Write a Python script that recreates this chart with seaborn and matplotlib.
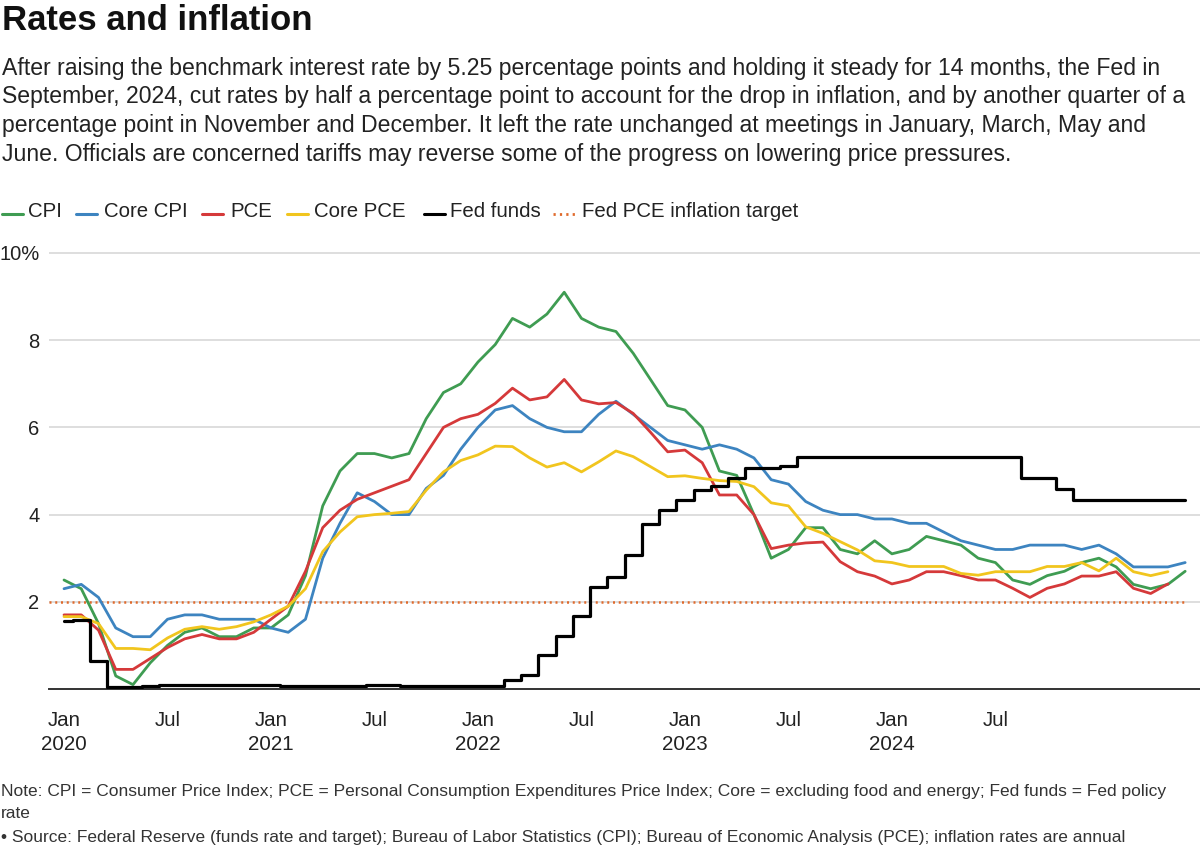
import numpy as np
import pandas as pd
import matplotlib
matplotlib.use("Agg")
import matplotlib.pyplot as plt
from matplotlib.lines import Line2D
import seaborn as sns

# ---------------- data (monthly, Jan 2020 onward) ----------------
start_month = "2020-01-01"

cpi = [2.5, 2.3, 1.5, 0.3, 0.1, 0.6, 1.0, 1.3, 1.4, 1.2, 1.2, 1.4,
       1.4, 1.7, 2.6, 4.2, 5.0, 5.4, 5.4, 5.3, 5.4, 6.2, 6.8, 7.0,
       7.5, 7.9, 8.5, 8.3, 8.6, 9.1, 8.5, 8.3, 8.2, 7.7, 7.1, 6.5,
       6.4, 6.0, 5.0, 4.9, 4.0, 3.0, 3.2, 3.7, 3.7, 3.2, 3.1, 3.4,
       3.1, 3.2, 3.5, 3.4, 3.3, 3.0, 2.9, 2.5, 2.4, 2.6, 2.7, 2.9,
       3.0, 2.8, 2.4, 2.3, 2.4, 2.7]

core_cpi = [2.3, 2.4, 2.1, 1.4, 1.2, 1.2, 1.6, 1.7, 1.7, 1.6, 1.6, 1.6,
            1.4, 1.3, 1.6, 3.0, 3.8, 4.5, 4.3, 4.0, 4.0, 4.6, 4.9, 5.5,
            6.0, 6.4, 6.5, 6.2, 6.0, 5.9, 5.9, 6.3, 6.6, 6.3, 6.0, 5.7,
            5.6, 5.5, 5.6, 5.5, 5.3, 4.8, 4.7, 4.3, 4.1, 4.0, 4.0, 3.9,
            3.9, 3.8, 3.8, 3.6, 3.4, 3.3, 3.2, 3.2, 3.3, 3.3, 3.3, 3.2,
            3.3, 3.1, 2.8, 2.8, 2.8, 2.9]

pce = [1.7, 1.7, 1.35, 0.45, 0.45, 0.7, 0.95, 1.15, 1.25, 1.15, 1.15, 1.3,
       1.6, 1.9, 2.7, 3.7, 4.1, 4.35, 4.5, 4.65, 4.8, 5.4, 6.0, 6.2,
       6.3, 6.55, 6.9, 6.63, 6.7, 7.1, 6.63, 6.54, 6.57, 6.32, 5.89, 5.44,
       5.48, 5.19, 4.45, 4.45, 4.0, 3.22, 3.3, 3.35, 3.37, 2.92, 2.69, 2.59,
       2.41, 2.5, 2.69, 2.69, 2.6, 2.5, 2.5, 2.31, 2.1, 2.31, 2.41, 2.59,
       2.59, 2.69, 2.31, 2.19, 2.41]

core_pce = [1.66, 1.66, 1.5, 0.93, 0.93, 0.9, 1.17, 1.37, 1.43, 1.37, 1.43, 1.54,
            1.7, 1.9, 2.3, 3.15, 3.6, 3.95, 4.0, 4.03, 4.07, 4.56, 4.98, 5.24,
            5.37, 5.57, 5.56, 5.30, 5.09, 5.19, 4.98, 5.21, 5.46, 5.33, 5.10, 4.87,
            4.89, 4.83, 4.78, 4.76, 4.64, 4.27, 4.2, 3.72, 3.57, 3.38, 3.19, 2.94,
            2.9, 2.81, 2.81, 2.81, 2.65, 2.61, 2.69, 2.69, 2.69, 2.81, 2.81, 2.9,
            2.71, 3.0, 2.69, 2.6, 2.69]

fed_funds = [1.55, 1.58, 0.65, 0.05, 0.05, 0.08, 0.09, 0.10, 0.09, 0.09, 0.09, 0.09,
             0.09, 0.08, 0.07, 0.07, 0.06, 0.08, 0.10, 0.09, 0.08, 0.08, 0.08, 0.08,
             0.08, 0.08, 0.20, 0.33, 0.77, 1.21, 1.68, 2.33, 2.56, 3.08, 3.78, 4.10,
             4.33, 4.57, 4.65, 4.83, 5.06, 5.08, 5.12, 5.33, 5.33, 5.33, 5.33, 5.33,
             5.33, 5.33, 5.33, 5.33, 5.33, 5.33, 5.33, 5.33, 4.83, 4.83, 4.58, 4.33,
             4.33, 4.33, 4.33, 4.33, 4.33, 4.33]

fed_target = 2.0

series_names = ["CPI", "Core CPI", "PCE", "Core PCE"]
series_colors = ["#3f9c52", "#3d84c0", "#d5393a", "#f1c51e"]
fed_name = "Fed funds"
target_name = "Fed PCE inflation target"
target_color = "#e06a2c"

xtick_pos = [0, 6, 12, 18, 24, 30, 36, 42, 48, 54, 56]
xtick_labels = ["Jan\n2020", "Jul", "Jan\n2021", "Jul", "Jan\n2022", "Jul",
                "Jan\n2023", "Jul", "Jan\n2024", "Jul", ""]
ytick_pos = [2, 4, 6, 8, 10]
ytick_labels = ["2", "4", "6", "8", "10%"]

title = "Rates and inflation"
subtitle_lines = [
    "After raising the benchmark interest rate by 5.25 percentage points and holding it steady for 14 months, the Fed in",
    "September, 2024, cut rates by half a percentage point to account for the drop in inflation, and by another quarter of a",
    "percentage point in November and December. It left the rate unchanged at meetings in January, March, May and",
    "June. Officials are concerned tariffs may reverse some of the progress on lowering price pressures.",
]
note_lines = [
    "Note: CPI = Consumer Price Index; PCE = Personal Consumption Expenditures Price Index; Core = excluding food and energy; Fed funds = Fed policy",
    "rate",
    "\u2022 Source: Federal Reserve (funds rate and target); Bureau of Labor Statistics (CPI); Bureau of Economic Analysis (PCE); inflation rates are annual",
]

# ---------------- build frames ----------------
values = [cpi, core_cpi, pce, core_pce]
rows = []
for name, vals in zip(series_names, values):
    for i, v in enumerate(vals):
        rows.append({"m": i, "series": name, "value": v})
df = pd.DataFrame(rows)
m_fed = np.arange(len(fed_funds))

# ---------------- style ----------------
sns.set_theme(style="white")
plt.rcParams["font.family"] = ["Liberation Sans", "DejaVu Sans"]

W, H = 1200, 851
fig = plt.figure(figsize=(W / 100, H / 100), dpi=100)

def fx(px):
    return px / W

def fy(py):
    return 1 - py / H

# axes: x=49..1200 px, y(0)=689 px, 43.6 px per unit
px_per_unit = 43.6
y0_px = 689
ytop = 10.3
ax_bottom = fy(y0_px)
ax_top = fy(y0_px - ytop * px_per_unit)
ax = fig.add_axes([fx(49), ax_bottom, 1 - fx(49), ax_top - ax_bottom])

xl, xr = -0.87, 65.86
ax.set_xlim(xl, xr)
ax.set_ylim(0, ytop)

# grid
ax.set_yticks(ytick_pos)
ax.set_yticklabels(ytick_labels)
ax.yaxis.grid(True, color="#d4d4d4", linewidth=1.1)
ax.xaxis.grid(False)
ax.set_axisbelow(True)

# target dotted line
ax.plot([xl, len(cpi) - 1], [fed_target, fed_target], color=target_color,
        linewidth=1.8, linestyle=(0, (0.8, 1.5)), zorder=2)

# inflation series
sns.lineplot(data=df, x="m", y="value", hue="series", hue_order=series_names,
             palette=dict(zip(series_names, series_colors)), linewidth=2.0,
             legend=False, ax=ax, sort=False, zorder=3)
# fed funds
sns.lineplot(x=m_fed, y=fed_funds, color="black", drawstyle="steps-mid",
             linewidth=2.3, ax=ax, zorder=4)

ax.set_xlabel("")
ax.set_ylabel("")

for s in ["top", "right", "left"]:
    ax.spines[s].set_visible(False)
ax.spines["bottom"].set_color("#333333")
ax.spines["bottom"].set_linewidth(1.4)

ax.set_xticks(xtick_pos)
ax.set_xticklabels(xtick_labels, linespacing=1.36)
ax.tick_params(axis="x", direction="out", length=6, width=1.3, color="#333333",
               pad=9.5, labelsize=14.8, labelcolor="#222222")
ax.tick_params(axis="y", length=0, pad=7, labelsize=14.5, labelcolor="#222222")
for lab in ax.get_yticklabels():
    lab.set_horizontalalignment("right")

# ---------------- texts ----------------
fig.text(fx(2), fy(30), title, fontsize=25, fontweight="bold",
         color="#111111", va="baseline", ha="left")
sub_base = [74.5, 103.5, 132, 160.5]
for b, line in zip(sub_base, subtitle_lines):
    fig.text(fx(2), fy(b), line, fontsize=16.6, color="#222222",
             va="baseline", ha="left")

# legend (manual)
leg_text_base = 217
leg_mark_y = 214
legend_items = [
    (2, 28, series_names[0], series_colors[0], "-"),
    (76, 104, series_names[1], series_colors[1], "-"),
    (202, 230, series_names[2], series_colors[2], "-"),
    (287, 314, series_names[3], series_colors[3], "-"),
    (424, 450, fed_name, "black", "-"),
    (553, 582, target_name, target_color, ":"),
]
for x0, xt, lab, col, ls in legend_items:
    if ls == "-":
        fig.add_artist(Line2D([fx(x0), fx(x0 + 21)], [fy(leg_mark_y)] * 2,
                              color=col, linewidth=2.2, transform=fig.transFigure))
    else:
        fig.add_artist(Line2D([fx(x0), fx(x0 + 23)], [fy(leg_mark_y)] * 2,
                              color=col, linewidth=2.0, linestyle=(0, (0.8, 1.5)),
                              transform=fig.transFigure))
    fig.text(fx(xt), fy(leg_text_base), lab, fontsize=14.7, color="#222222",
             va="baseline", ha="left")

note_base = [796, 818, 842]
for b, line in zip(note_base, note_lines):
    fig.text(fx(1), fy(b), line, fontsize=12.5, color="#333333",
             va="baseline", ha="left")

fig.savefig("out.png", dpi=100)
